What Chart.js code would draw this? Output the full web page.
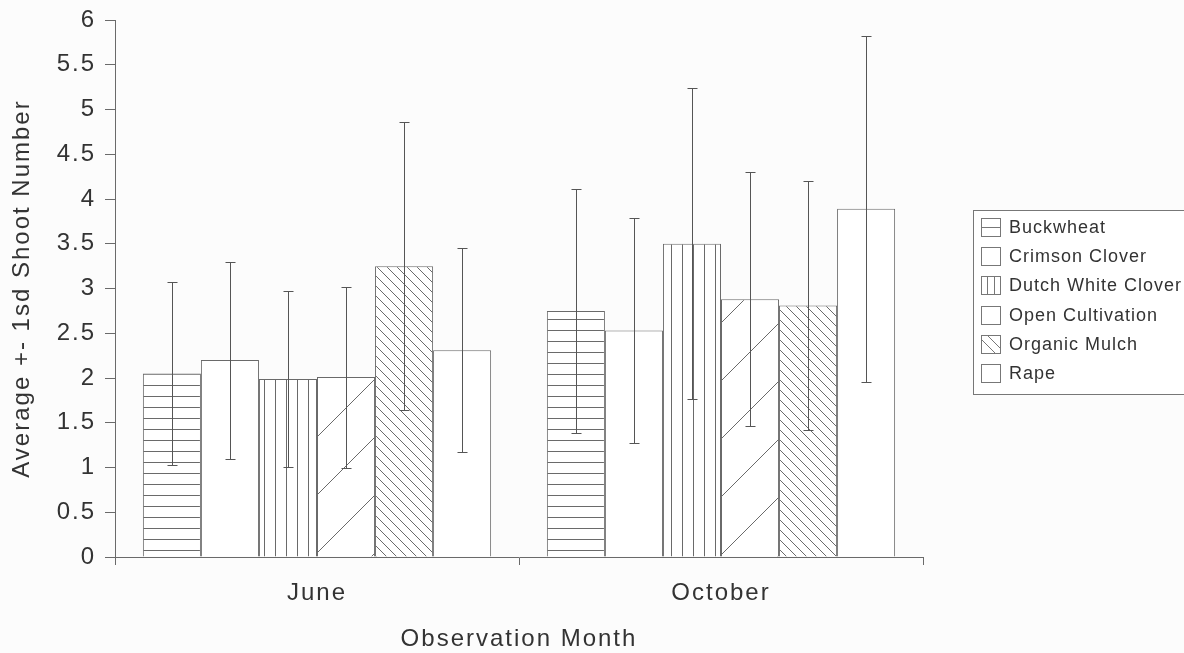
<!DOCTYPE html>
<html>
<head>
<meta charset="utf-8">
<script src="https://cdn.jsdelivr.net/npm/chart.js@4/dist/chart.umd.min.js"></script>
<style>
  html, body { margin: 0; padding: 0; background: #fcfcfc; }
  #wrap { width: 1184px; height: 653px; }
</style>
</head>
<body>
<div id="wrap"><canvas id="c" width="1184" height="653"></canvas></div>
<script>
// Observation months (categories)
const months = ['June', 'October'];

// Treatment names
const treatments = ['Buckwheat', 'Crimson Clover', 'Dutch White Clover', 'Open Cultivation', 'Organic Mulch', 'Rape'];

// Mean shoot number per treatment [June, October]
const buckwheat       = [2.05, 2.75];
const crimsonClover   = [2.20, 2.53];
const dutchClover     = [1.99, 3.50];
const openCultivation = [2.01, 2.88];
const organicMulch    = [3.25, 2.81];
const rape            = [2.31, 3.89];

// One standard deviation per treatment [June, October]
const buckwheatSd       = [1.02, 1.36];
const crimsonCloverSd   = [1.10, 1.26];
const dutchCloverSd     = [0.98, 1.74];
const openCultivationSd = [1.01, 1.42];
const organicMulchSd    = [1.61, 1.39];
const rapeSd            = [1.14, 1.93];

// Value-axis ticks
const yTicks = [0, 0.5, 1, 1.5, 2, 2.5, 3, 3.5, 4, 4.5, 5, 5.5, 6];

const means = [buckwheat, crimsonClover, dutchClover, openCultivation, organicMulch, rape];
const sds = [buckwheatSd, crimsonCloverSd, dutchCloverSd, openCultivationSd, organicMulchSd, rapeSd];

const LINE = '#6a6a6a';
const TEXT = '#333333';
const FONT = 'Liberation Sans, Arial, sans-serif';

// Monochrome hatch fills
function makePattern(kind) {
  if (kind === 'plain') return '#ffffff';
  const c = document.createElement('canvas');
  const g = c.getContext('2d');
  let w = 11, h = 11;
  if (kind === 'diagSparse') { w = 58; h = 58; }
  if (kind === 'diagDense') { w = 10; h = 10; }
  c.width = w; c.height = h;
  g.fillStyle = '#ffffff';
  g.fillRect(0, 0, w, h);
  g.strokeStyle = LINE;
  g.lineWidth = 1;
  g.beginPath();
  if (kind === 'horizontal') {
    g.moveTo(0, 0.5); g.lineTo(w, 0.5);
  } else if (kind === 'vertical') {
    g.moveTo(0.5, 0); g.lineTo(0.5, h);
  } else if (kind === 'diagSparse') {
    g.moveTo(-2, h + 2); g.lineTo(w + 2, -2);
  } else if (kind === 'diagDense') {
    g.moveTo(-2, -2); g.lineTo(w + 2, h + 2);
    g.moveTo(-2, h - 2); g.lineTo(2, h + 2);
    g.moveTo(w - 2, -2); g.lineTo(w + 2, 2);
  }
  g.stroke();
  return g.createPattern(c, 'repeat');
}

const fills = [
  makePattern('horizontal'),
  makePattern('plain'),
  makePattern('vertical'),
  makePattern('diagSparse'),
  makePattern('diagDense'),
  makePattern('plain')
];

// Slightly wide letter spacing for the axis text
const textSpacing = {
  id: 'textSpacing',
  beforeDraw(chart) { chart.ctx.letterSpacing = '2px'; }
};

const errorBars = {
  id: 'errorBars',
  afterDatasetsDraw(chart) {
    const ctx = chart.ctx;
    const y = chart.scales.y;
    chart.data.datasets.forEach((ds, i) => {
      const meta = chart.getDatasetMeta(i);
      meta.data.forEach((bar, j) => {
        const m = means[i][j], s = sds[i][j];
        const top = Math.round(y.getPixelForValue(m + s)) + 0.5;
        const bot = Math.round(y.getPixelForValue(m - s)) + 0.5;
        const x = Math.round(bar.x) + 0.5;
        ctx.save();
        ctx.strokeStyle = '#555';
        ctx.lineWidth = 1;
        ctx.beginPath();
        ctx.moveTo(x, top); ctx.lineTo(x, bot);
        ctx.moveTo(x - 5, top); ctx.lineTo(x + 5, top);
        ctx.moveTo(x - 5, bot); ctx.lineTo(x + 5, bot);
        ctx.stroke();
        ctx.restore();
      });
    });
  }
};

const boxLegend = {
  id: 'boxLegend',
  afterDraw(chart) {
    const ctx = chart.ctx;
    const bx = 973.5, by = 210.5, bw = 260, bh = 184;
    ctx.save();
    ctx.letterSpacing = '1px';
    ctx.strokeStyle = '#777';
    ctx.lineWidth = 1;
    ctx.fillStyle = '#ffffff';
    ctx.fillRect(bx, by, bw, bh);
    ctx.strokeRect(bx, by, bw, bh);
    ctx.font = '18px ' + FONT;
    ctx.textBaseline = 'middle';
    const kinds = ['horizontal', 'plain', 'vertical', 'plain', 'diagDense', 'plain'];
    treatments.forEach((name, i) => {
      const cy = 227 + i * 29.2;
      const sx = 981.5, sy = Math.round(cy - 9) + 0.5, sw = 19, sh = 18;
      ctx.fillStyle = '#ffffff';
      ctx.fillRect(sx, sy, sw, sh);
      ctx.save();
      ctx.beginPath(); ctx.rect(sx, sy, sw, sh); ctx.clip();
      ctx.strokeStyle = '#777';
      ctx.beginPath();
      const k = kinds[i];
      if (k === 'horizontal') { ctx.moveTo(sx, sy + 9); ctx.lineTo(sx + sw, sy + 9); }
      if (k === 'vertical') { ctx.moveTo(sx + 6, sy); ctx.lineTo(sx + 6, sy + sh); ctx.moveTo(sx + 13, sy); ctx.lineTo(sx + 13, sy + sh); }
      if (k === 'diagDense') {
        ctx.moveTo(sx - 4, sy); ctx.lineTo(sx + sw - 4, sy + sh + 1);
        ctx.moveTo(sx + 6, sy); ctx.lineTo(sx + sw + 6, sy + sh + 1);
      }
      ctx.stroke();
      ctx.restore();
      ctx.strokeStyle = '#777';
      ctx.strokeRect(sx, sy, sw, sh);
      ctx.fillStyle = TEXT;
      ctx.fillText(name, 1009, cy + 1);
    });
    ctx.restore();
  }
};

const datasets = treatments.map((name, i) => ({
  label: name,
  data: means[i],
  backgroundColor: fills[i],
  borderColor: LINE,
  borderWidth: 1,
  categoryPercentage: 0.862,
  barPercentage: 1.0
}));

new Chart(document.getElementById('c'), {
  type: 'bar',
  data: { labels: months, datasets },
  options: {
    responsive: false,
    animation: false,
    devicePixelRatio: 1,
    layout: { padding: { left: 0, right: 261, top: 20, bottom: 0 } },
    plugins: { legend: { display: false }, tooltip: { enabled: false } },
    scales: {
      x: {
        grid: { drawOnChartArea: false, tickLength: 8, color: LINE, offset: true },
        border: { color: LINE },
        ticks: { font: { family: FONT, size: 24 }, color: TEXT, padding: 14 },
        title: { display: true, text: 'Observation Month', color: TEXT,
                 font: { family: FONT, size: 24, lineHeight: 1 }, padding: { top: 0, bottom: 1.5 } },
        afterFit(s) { s.height = 96; s.paddingLeft = 0; s.paddingRight = 0; }
      },
      y: {
        min: 0, max: 6,
        afterBuildTicks(s) { s.ticks = yTicks.map(v => ({ value: v })); },
        grid: { drawOnChartArea: false, tickLength: 10, color: LINE },
        border: { color: LINE },
        ticks: { font: { family: FONT, size: 24, lineHeight: 1 }, color: TEXT, padding: 9,
                 callback: v => String(v) },
        title: { display: true, text: 'Average +- 1sd Shoot Number', color: TEXT,
                 font: { family: FONT, size: 24 }, padding: { top: 8, bottom: 0 } },
        afterFit(s) { s.width = 115; s.paddingTop = 0; s.paddingBottom = 0; }
      }
    }
  },
  plugins: [textSpacing, errorBars, boxLegend]
});
</script>
</body>
</html>
